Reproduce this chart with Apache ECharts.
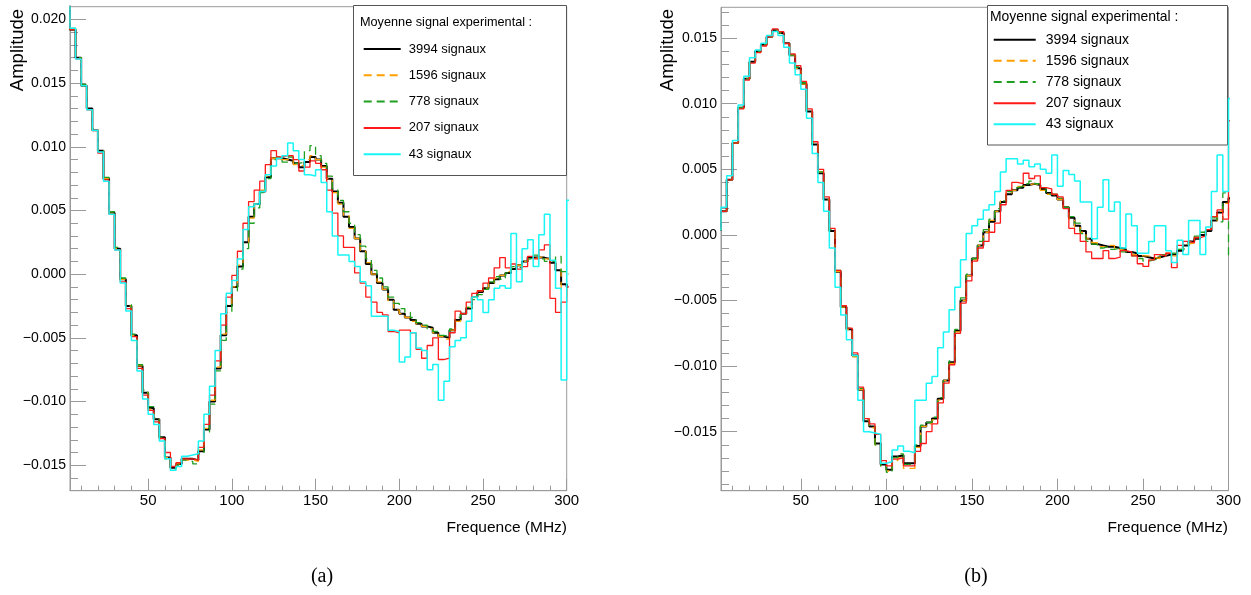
<!DOCTYPE html>
<html><head><meta charset="utf-8">
<script src="https://cdn.jsdelivr.net/npm/echarts@6/dist/echarts.min.js"></script>
<style>html,body{margin:0;padding:0;background:#fff;}#c{width:1251px;height:595px;}</style>
</head><body><div id="c"></div>
<script>
// ---------------- data ----------------
const BIN_WIDTH_MHZ = 10 / 3;          // frequency bin width
const FREQ_MAX = 300;
const SERIES_NAMES = ['3994 signaux', '1596 signaux', '778 signaux', '207 signaux', '43 signaux'];
const LEGEND_TITLE = 'Moyenne signal experimental :';
const X_TITLE = 'Frequence (MHz)';
const Y_TITLE = 'Amplitude';
const X_TICK_LABELS = [50, 100, 150, 200, 250, 300];
const X_MINOR_TICKS = [10, 20, 30, 40, 60, 70, 80, 90, 110, 120, 130, 140, 160, 170, 180, 190, 210, 220, 230, 240, 260, 270, 280, 290];
const Y_TICK_LABELS_A = [-0.015, -0.010, -0.005, 0, 0.005, 0.010, 0.015, 0.020];
const Y_TICK_LABELS_B = [-0.015, -0.010, -0.005, 0, 0.005, 0.010, 0.015];

// panel (a): one value per 10/3 MHz bin, bin 0 = 0 MHz ... bin 90 = 300 MHz
const A_3994 = [0.0230,
  0.0192, 0.0170, 0.0148, 0.0130, 0.0113, 0.0097, 0.0075, 0.0048, 0.0020, -0.0004,
  -0.0025, -0.0048, -0.0072, -0.0093, -0.0105, -0.0114, -0.0128, -0.0144, -0.0152, -0.0149,
  -0.0145, -0.0145, -0.0146, -0.0139, -0.0122, -0.0100, -0.0074, -0.0048, -0.0025, -0.0010,
  0.0006, 0.0025, 0.0045, 0.0055, 0.0065, 0.0076, 0.0091, 0.0091, 0.0090, 0.0089,
  0.0087, 0.0084, 0.0088, 0.0092, 0.0090, 0.0085, 0.0075, 0.0065, 0.0056, 0.0045,
  0.0037, 0.0028, 0.0018, 0.0008, 0.0000, -0.0007, -0.0012, -0.0020, -0.0028, -0.0031,
  -0.0034, -0.0036, -0.0039, -0.0041, -0.0042, -0.0046, -0.0049, -0.0050, -0.0044, -0.0036,
  -0.0031, -0.0027, -0.0018, -0.0014, -0.0011, -0.0007, -0.0004, -0.0001, 0.0001, 0.0004,
  0.0007, 0.0010, 0.0013, 0.0013, 0.0013, 0.0012, 0.0009, 0.0003, -0.0008, -0.0010];
const A_1596 = [0.0230,
  0.0192, 0.0170, 0.0148, 0.0130, 0.0113, 0.0097, 0.0075, 0.0048, 0.0020, -0.0004,
  -0.0025, -0.0048, -0.0072, -0.0093, -0.0106, -0.0114, -0.0129, -0.0144, -0.0152, -0.0149,
  -0.0146, -0.0146, -0.0147, -0.0138, -0.0121, -0.0099, -0.0073, -0.0047, -0.0024, -0.0010,
  0.0007, 0.0024, 0.0044, 0.0055, 0.0066, 0.0077, 0.0091, 0.0090, 0.0090, 0.0090,
  0.0086, 0.0085, 0.0090, 0.0093, 0.0090, 0.0084, 0.0075, 0.0064, 0.0055, 0.0046,
  0.0036, 0.0028, 0.0018, 0.0009, 0.0000, -0.0006, -0.0012, -0.0021, -0.0028, -0.0031,
  -0.0034, -0.0037, -0.0039, -0.0041, -0.0043, -0.0046, -0.0049, -0.0051, -0.0044, -0.0037,
  -0.0031, -0.0026, -0.0018, -0.0013, -0.0011, -0.0007, -0.0003, -0.0001, 0.0002, 0.0005,
  0.0007, 0.0010, 0.0012, 0.0013, 0.0014, 0.0012, 0.0010, 0.0004, -0.0012, -0.0020];
const A_778 = [0.0230,
  0.0193, 0.0170, 0.0149, 0.0130, 0.0114, 0.0097, 0.0076, 0.0049, 0.0021, -0.0003,
  -0.0024, -0.0047, -0.0071, -0.0091, -0.0104, -0.0113, -0.0128, -0.0145, -0.0153, -0.0150,
  -0.0146, -0.0147, -0.0149, -0.0141, -0.0124, -0.0102, -0.0076, -0.0052, -0.0030, -0.0013,
  0.0004, 0.0020, 0.0040, 0.0052, 0.0064, 0.0075, 0.0090, 0.0092, 0.0088, 0.0092,
  0.0087, 0.0088, 0.0097, 0.0101, 0.0093, 0.0087, 0.0077, 0.0067, 0.0058, 0.0049,
  0.0040, 0.0031, 0.0022, 0.0012, 0.0003, -0.0003, -0.0010, -0.0018, -0.0023, -0.0027,
  -0.0030, -0.0034, -0.0038, -0.0040, -0.0043, -0.0045, -0.0048, -0.0049, -0.0043, -0.0034,
  -0.0030, -0.0026, -0.0020, -0.0016, -0.0012, -0.0006, -0.0002, -0.0004, 0.0001, 0.0006,
  0.0005, 0.0010, 0.0012, 0.0015, 0.0012, 0.0010, 0.0010, 0.0014, 0.0002, 0.0000];
const A_207 = [0.0230,
  0.0192, 0.0169, 0.0148, 0.0129, 0.0113, 0.0095, 0.0074, 0.0047, 0.0019, -0.0006,
  -0.0027, -0.0049, -0.0074, -0.0095, -0.0107, -0.0116, -0.0129, -0.0140, -0.0151, -0.0148,
  -0.0145, -0.0145, -0.0146, -0.0136, -0.0118, -0.0095, -0.0068, -0.0040, -0.0018, -0.0001,
  0.0018, 0.0040, 0.0057, 0.0066, 0.0073, 0.0086, 0.0097, 0.0092, 0.0093, 0.0093,
  0.0090, 0.0081, 0.0084, 0.0089, 0.0087, 0.0082, 0.0066, 0.0048, 0.0030, 0.0021,
  0.0021, 0.0001, -0.0007, -0.0018, -0.0022, -0.0030, -0.0032, -0.0045, -0.0046, -0.0044,
  -0.0044, -0.0046, -0.0059, -0.0066, -0.0056, -0.0050, -0.0067, -0.0066, -0.0046, -0.0029,
  -0.0031, -0.0022, -0.0015, -0.0013, -0.0007, -0.0003, 0.0005, 0.0013, 0.0005, 0.0008,
  0.0004, 0.0006, 0.0014, 0.0012, 0.0019, 0.0023, -0.0019, -0.0030, -0.0022, -0.0010];
const A_43 = [0.0230,
  0.0193, 0.0169, 0.0148, 0.0129, 0.0113, 0.0096, 0.0073, 0.0047, 0.0019, -0.0007,
  -0.0029, -0.0052, -0.0076, -0.0098, -0.0110, -0.0118, -0.0131, -0.0145, -0.0154, -0.0151,
  -0.0143, -0.0142, -0.0141, -0.0131, -0.0110, -0.0088, -0.0060, -0.0031, -0.0015, -0.0005,
  0.0012, 0.0035, 0.0053, 0.0055, 0.0065, 0.0078, 0.0085, 0.0091, 0.0093, 0.0103,
  0.0097, 0.0090, 0.0078, 0.0077, 0.0082, 0.0072, 0.0049, 0.0030, 0.0015, 0.0015,
  0.0010, 0.0006, -0.0006, -0.0009, -0.0033, -0.0033, -0.0033, -0.0044, -0.0045, -0.0069,
  -0.0065, -0.0046, -0.0058, -0.0060, -0.0075, -0.0071, -0.0099, -0.0084, -0.0057, -0.0052,
  -0.0050, -0.0037, -0.0018, -0.0020, -0.0030, -0.0020, -0.0011, -0.0009, -0.0011, 0.0032,
  -0.0006, 0.0020, 0.0027, 0.0006, 0.0031, 0.0047, 0.0011, -0.0011, -0.0083, 0.0058];

// panel (b)
const B_3994 = [0.0004,
  0.0018, 0.0042, 0.0070, 0.0097, 0.0119, 0.0132, 0.0140, 0.0145, 0.0151, 0.0156,
  0.0154, 0.0146, 0.0137, 0.0127, 0.0115, 0.0094, 0.0069, 0.0047, 0.0027, 0.0003,
  -0.0028, -0.0055, -0.0072, -0.0092, -0.0118, -0.0142, -0.0146, -0.0159, -0.0175, -0.0179,
  -0.0169, -0.0168, -0.0174, -0.0174, -0.0161, -0.0146, -0.0143, -0.0140, -0.0125, -0.0111,
  -0.0097, -0.0073, -0.0050, -0.0031, -0.0018, -0.0008, 0.0002, 0.0010, 0.0018, 0.0025,
  0.0031, 0.0034, 0.0036, 0.0038, 0.0039, 0.0038, 0.0035, 0.0032, 0.0030, 0.0027,
  0.0021, 0.0013, 0.0007, 0.0003, -0.0003, -0.0007, -0.0008, -0.0009, -0.0009, -0.0010,
  -0.0011, -0.0013, -0.0014, -0.0016, -0.0017, -0.0018, -0.0017, -0.0016, -0.0015, -0.0015,
  -0.0012, -0.0008, -0.0005, -0.0003, 0.0000, 0.0003, 0.0011, 0.0017, 0.0025, 0.0028];
const B_1596 = [0.0004,
  0.0018, 0.0042, 0.0070, 0.0097, 0.0119, 0.0132, 0.0140, 0.0145, 0.0151, 0.0156,
  0.0154, 0.0146, 0.0137, 0.0127, 0.0115, 0.0094, 0.0070, 0.0048, 0.0027, 0.0003,
  -0.0028, -0.0055, -0.0072, -0.0093, -0.0118, -0.0141, -0.0147, -0.0160, -0.0176, -0.0180,
  -0.0172, -0.0170, -0.0178, -0.0178, -0.0162, -0.0146, -0.0144, -0.0141, -0.0126, -0.0111,
  -0.0098, -0.0074, -0.0050, -0.0031, -0.0019, -0.0008, 0.0002, 0.0011, 0.0018, 0.0026,
  0.0032, 0.0034, 0.0037, 0.0038, 0.0039, 0.0038, 0.0034, 0.0031, 0.0030, 0.0027,
  0.0021, 0.0012, 0.0006, 0.0002, -0.0003, -0.0006, -0.0009, -0.0010, -0.0008, -0.0011,
  -0.0012, -0.0013, -0.0015, -0.0016, -0.0016, -0.0017, -0.0018, -0.0016, -0.0014, -0.0016,
  -0.0011, -0.0007, -0.0006, -0.0002, 0.0000, 0.0004, 0.0010, 0.0018, 0.0024, 0.0026];
const B_778 = [0.0004,
  0.0018, 0.0042, 0.0070, 0.0097, 0.0119, 0.0132, 0.0140, 0.0145, 0.0151, 0.0156,
  0.0154, 0.0147, 0.0137, 0.0128, 0.0116, 0.0095, 0.0070, 0.0048, 0.0028, 0.0004,
  -0.0027, -0.0054, -0.0071, -0.0092, -0.0117, -0.0141, -0.0146, -0.0160, -0.0177, -0.0181,
  -0.0170, -0.0167, -0.0175, -0.0175, -0.0160, -0.0145, -0.0143, -0.0139, -0.0124, -0.0110,
  -0.0096, -0.0072, -0.0048, -0.0030, -0.0018, -0.0005, 0.0004, 0.0012, 0.0020, 0.0026,
  0.0033, 0.0036, 0.0037, 0.0039, 0.0041, 0.0039, 0.0036, 0.0031, 0.0031, 0.0028,
  0.0021, 0.0014, 0.0009, 0.0001, -0.0005, -0.0007, -0.0010, -0.0009, -0.0011, -0.0010,
  -0.0013, -0.0013, -0.0016, -0.0018, -0.0020, -0.0019, -0.0018, -0.0015, -0.0016, -0.0014,
  -0.0011, -0.0010, -0.0005, -0.0001, 0.0002, 0.0004, 0.0013, 0.0010, 0.0032, -0.0018];
const B_207 = [0.0004,
  0.0018, 0.0042, 0.0070, 0.0096, 0.0118, 0.0131, 0.0139, 0.0144, 0.0151, 0.0157,
  0.0155, 0.0146, 0.0138, 0.0129, 0.0117, 0.0096, 0.0071, 0.0050, 0.0029, 0.0005,
  -0.0027, -0.0054, -0.0071, -0.0090, -0.0116, -0.0140, -0.0144, -0.0152, -0.0172, -0.0176,
  -0.0171, -0.0170, -0.0176, -0.0176, -0.0165, -0.0159, -0.0150, -0.0144, -0.0128, -0.0113,
  -0.0099, -0.0075, -0.0052, -0.0035, -0.0020, -0.0010, -0.0005, 0.0002, 0.0009, 0.0023,
  0.0034, 0.0040, 0.0039, 0.0047, 0.0043, 0.0045, 0.0036, 0.0035, 0.0031, 0.0029,
  0.0020, 0.0005, 0.0001, -0.0005, -0.0013, -0.0018, -0.0018, -0.0012, -0.0018, -0.0017,
  -0.0012, -0.0013, -0.0016, -0.0022, -0.0024, -0.0019, -0.0015, -0.0016, -0.0014, -0.0025,
  -0.0008, -0.0005, -0.0006, -0.0002, -0.0001, 0.0004, 0.0014, 0.0019, 0.0012, 0.0087];
const B_43 = [0.0004,
  0.0021, 0.0045, 0.0072, 0.0099, 0.0121, 0.0135, 0.0141, 0.0146, 0.0152, 0.0155,
  0.0152, 0.0143, 0.0131, 0.0122, 0.0111, 0.0089, 0.0062, 0.0040, 0.0018, -0.0010,
  -0.0040, -0.0061, -0.0080, -0.0092, -0.0126, -0.0150, -0.0151, -0.0152, -0.0174, -0.0173,
  -0.0164, -0.0161, -0.0165, -0.0166, -0.0126, -0.0126, -0.0113, -0.0108, -0.0086, -0.0074,
  -0.0057, -0.0040, -0.0019, 0.0001, 0.0007, 0.0012, 0.0019, 0.0023, 0.0033, 0.0048,
  0.0058, 0.0058, 0.0054, 0.0057, 0.0052, 0.0054, 0.0050, 0.0047, 0.0061, 0.0037,
  0.0049, 0.0046, 0.0041, 0.0025, 0.0025, -0.0003, 0.0021, 0.0042, 0.0018, 0.0025,
  -0.0010, 0.0016, 0.0007, -0.0014, -0.0014, -0.0005, 0.0007, 0.0007, -0.0012, -0.0021,
  -0.0004, -0.0015, 0.0011, 0.0011, -0.0015, 0.0006, 0.0033, 0.0061, 0.0033, 0.0104];

const PANEL_A = [A_3994, A_1596, A_778, A_207, A_43];
const PANEL_B = [B_3994, B_1596, B_778, B_207, B_43];

// ---------------- style ----------------
const FONT = "'Liberation Sans', Arial, Helvetica, sans-serif";
const FRAME = '#9a9a9a';
const LINE_STYLES = [
  { color: '#000000', width: 2, type: 'solid' },
  { color: '#ffa000', width: 1.3, type: [8, 5] },
  { color: '#1f9e1f', width: 1.3, type: [8, 5] },
  { color: '#ff1a1a', width: 1.3, type: 'solid' },
  { color: '#19f5f5', width: 1.5, type: 'solid' }
];

function stepPoints(vals) {
  const pts = vals.map((v, k) => [k * BIN_WIDTH_MHZ, v]);
  pts.push([vals.length * BIN_WIDTH_MHZ, vals[vals.length - 1]]);
  return pts;
}
function minorList(lo, hi) {
  const out = [];
  for (let i = lo; i <= hi; i++) out.push(i / 1000);
  return out;
}
const yFmt = v => (v < 0 ? '\u2212' : '') + Math.abs(v).toFixed(3);

const PANELS = [
  { grid: { left: 70, top: 6.7, width: 496.7, height: 484 }, ymin: -0.0170, ymax: 0.0210,
    ylabels: Y_TICK_LABELS_A, yminor: minorList(-16, 20), data: PANEL_A },
  { grid: { left: 721, top: 7.3, width: 507.5, height: 483.4 }, ymin: -0.0195, ymax: 0.01735,
    ylabels: Y_TICK_LABELS_B, yminor: minorList(-19, 17), data: PANEL_B }
];

const option = {
  animation: false,
  backgroundColor: '#ffffff',
  grid: [], xAxis: [], yAxis: [], series: [], legend: [], graphic: []
};

PANELS.forEach((p, g) => {
  option.grid.push(Object.assign({ show: true, borderColor: FRAME, borderWidth: 1, containLabel: false }, p.grid));
  const xi = option.xAxis.length, yi = option.yAxis.length;
  option.xAxis.push({
    gridIndex: g, type: 'value', min: BIN_WIDTH_MHZ, max: FREQ_MAX, position: 'bottom',
    axisLine: { show: true, onZero: false, lineStyle: { color: FRAME, width: 1 } },
    axisTick: { show: true, inside: true, length: 12, customValues: X_TICK_LABELS, lineStyle: { color: FRAME } },
    axisLabel: { show: true, customValues: X_TICK_LABELS, margin: 3, fontFamily: FONT, fontSize: 15, color: '#000' },
    splitLine: { show: false }
  });
  option.xAxis.push({
    gridIndex: g, type: 'value', min: BIN_WIDTH_MHZ, max: FREQ_MAX, position: 'bottom',
    axisLine: { show: false, onZero: false },
    axisTick: { show: true, inside: true, length: 5, customValues: X_MINOR_TICKS, lineStyle: { color: FRAME } },
    axisLabel: { show: false }, splitLine: { show: false }
  });
  option.yAxis.push({
    gridIndex: g, type: 'value', min: p.ymin, max: p.ymax, position: 'left',
    axisLine: { show: true, onZero: false, lineStyle: { color: FRAME, width: 1 } },
    axisTick: { show: true, inside: true, length: 16, customValues: p.ylabels, lineStyle: { color: FRAME } },
    axisLabel: { show: true, customValues: p.ylabels, formatter: yFmt, margin: 4, fontFamily: FONT, fontSize: 14, color: '#000' },
    splitLine: { show: false }
  });
  option.yAxis.push({
    gridIndex: g, type: 'value', min: p.ymin, max: p.ymax, position: 'left',
    axisLine: { show: false, onZero: false },
    axisTick: { show: true, inside: true, length: 8, customValues: p.yminor, lineStyle: { color: FRAME } },
    axisLabel: { show: false }, splitLine: { show: false }
  });
  p.data.forEach((vals, s) => {
    const st = LINE_STYLES[s];
    option.series.push({
      name: SERIES_NAMES[s], type: 'line', xAxisIndex: xi, yAxisIndex: yi,
      data: stepPoints(vals), step: 'end', symbol: 'none', showSymbol: false, clip: true,
      color: st.color, lineStyle: { color: st.color, width: st.width, type: st.type },
      z: 3 + s
    });
  });
});

// legends
option.legend.push({
  left: 362.7, top: 42.5, padding: 0, orient: 'vertical', itemWidth: 37, itemHeight: 15, itemGap: 13.3,
  data: SERIES_NAMES, selectedMode: false, itemStyle: { opacity: 0 },
  textStyle: { fontFamily: FONT, fontSize: 13, color: '#000', padding: [0, 0, 0, 3] }
});
option.legend.push({
  left: 992.7, top: 32.7, padding: 0, orient: 'vertical', itemWidth: 42, itemHeight: 16, itemGap: 7.15,
  data: SERIES_NAMES, selectedMode: false, itemStyle: { opacity: 0 },
  textStyle: { fontFamily: FONT, fontSize: 14, color: '#000', padding: [0, 0, 0, 5] }
});

// legend boxes, titles, captions
option.graphic = [
  { type: 'rect', z: 1, shape: { x: 353.5, y: 5.5, width: 213, height: 170 }, style: { fill: '#fff', stroke: '#555', lineWidth: 1 } },
  { type: 'rect', z: 1, shape: { x: 987.5, y: 5.5, width: 240, height: 139.5 }, style: { fill: '#fff', stroke: '#555', lineWidth: 1 } },
  { type: 'text', z: 10, x: 360, y: 22.7, style: { text: LEGEND_TITLE, fontFamily: FONT, fontSize: 12.7, fill: '#000', verticalAlign: 'middle' } },
  { type: 'text', z: 10, x: 990, y: 16.7, style: { text: LEGEND_TITLE, fontFamily: FONT, fontSize: 13.9, fill: '#000', verticalAlign: 'middle' } },
  { type: 'text', z: 10, x: 17.5, y: 50, rotation: Math.PI / 2, style: { text: Y_TITLE, fontFamily: FONT, fontSize: 18.5, fill: '#000', align: 'center', verticalAlign: 'middle' } },
  { type: 'text', z: 10, x: 667.5, y: 50, rotation: Math.PI / 2, style: { text: Y_TITLE, fontFamily: FONT, fontSize: 18.5, fill: '#000', align: 'center', verticalAlign: 'middle' } },
  { type: 'text', z: 10, x: 567, y: 528, style: { text: X_TITLE, fontFamily: FONT, fontSize: 15.5, fill: '#000', align: 'right', verticalAlign: 'middle' } },
  { type: 'text', z: 10, x: 1228, y: 528, style: { text: X_TITLE, fontFamily: FONT, fontSize: 15.5, fill: '#000', align: 'right', verticalAlign: 'middle' } },
  { type: 'text', z: 10, x: 322, y: 577, style: { text: '(a)', fontFamily: "'Liberation Serif', 'DejaVu Serif', serif", fontSize: 20, fill: '#000', align: 'center', verticalAlign: 'middle' } },
  { type: 'text', z: 10, x: 976, y: 577, style: { text: '(b)', fontFamily: "'Liberation Serif', 'DejaVu Serif', serif", fontSize: 20, fill: '#000', align: 'center', verticalAlign: 'middle' } }
];

const chart = echarts.init(document.getElementById('c'), null, { renderer: 'canvas', width: 1251, height: 595 });
chart.setOption(option);
</script>
</body></html>
